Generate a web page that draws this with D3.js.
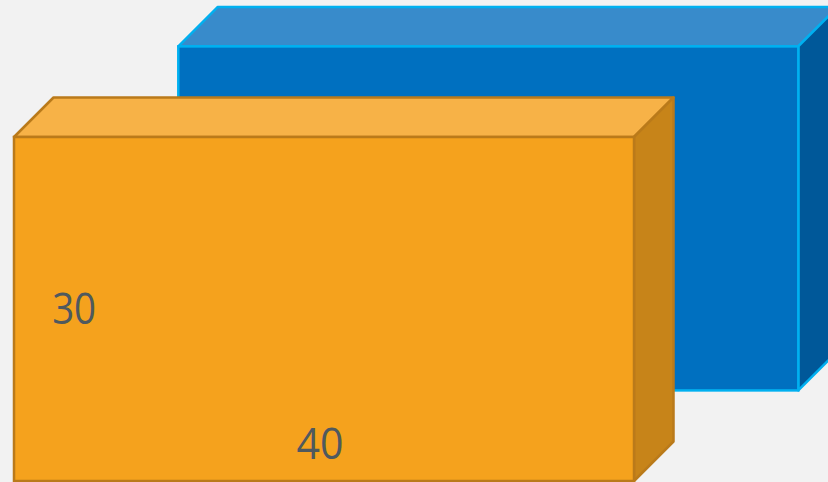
<!DOCTYPE html>
<html>
<head>
<meta charset="utf-8">
<script src="https://cdn.jsdelivr.net/npm/d3@7"></script>
<style>
  html, body { margin: 0; padding: 0; background: #f2f2f2; overflow: hidden; }
  svg { display: block; }
</style>
</head>
<body>
<div id="chart"></div>
<script>
// ---- data ----
const boxNames   = ["Back box", "Front box"];
const boxLeft    = [10.6, 0];     // x start (units)
const boxBase    = [7.9, 0];      // base elevation (units)
const boxWidth   = [40, 40];      // width (units)
const boxHeight  = [30, 30];      // height (units)
const boxDepth   = [10, 10];      // depth (units)
const heightLabel = ["", "30"];
const widthLabel  = ["", "40"];

const faceFront = ["#0070c0", "#f5a21d"];
const faceTop   = ["#388bcb", "#f7b247"];
const faceSide  = ["#005899", "#c78419"];
const edgeColor = ["#00b0f0", "#ba7a1a"];

// ---- layout ----
const W = 828, H = 482;
const svg = d3.select("#chart").append("svg").attr("width", W).attr("height", H);
svg.append("rect").attr("width", W).attr("height", H).attr("fill", "#f2f2f2");

const x = d3.scaleLinear().domain([0, 40]).range([14, 634]);
const y = d3.scaleLinear().domain([0, 30]).range([481, 137]);
const dz = d3.scaleLinear().domain([0, 10]).range([0, 39.5]);

const boxes = boxNames.map((n, i) => ({
  name: n, left: boxLeft[i], base: boxBase[i], w: boxWidth[i], h: boxHeight[i], d: boxDepth[i],
  front: faceFront[i], top: faceTop[i], side: faceSide[i], edge: edgeColor[i],
  hl: heightLabel[i], wl: widthLabel[i]
}));

const line = d3.line();
const g = svg.selectAll("g.box").data(boxes).join("g").attr("class", "box");
const labelFont = "'Open Sans', Lato, sans-serif";

g.each(function(b) {
  const sel = d3.select(this);
  const x0 = x(b.left), x1 = x(b.left + b.w);
  const yb = y(b.base), yt = y(b.base + b.h);
  const ox = dz(b.d), oy = -dz(b.d);
  // top face
  sel.append("path")
    .attr("d", line([[x0, yt], [x0 + ox, yt + oy], [x1 + ox, yt + oy], [x1, yt]]) + "Z")
    .attr("fill", b.top).attr("stroke", b.edge).attr("stroke-width", 2.5).attr("stroke-linejoin", "round");
  // side face
  sel.append("path")
    .attr("d", line([[x1, yt], [x1 + ox, yt + oy], [x1 + ox, yb + oy], [x1, yb]]) + "Z")
    .attr("fill", b.side).attr("stroke", b.edge).attr("stroke-width", 2.5).attr("stroke-linejoin", "round");
  // front face
  sel.append("rect")
    .attr("x", x0).attr("y", yt).attr("width", x1 - x0).attr("height", yb - yt)
    .attr("fill", b.front).attr("stroke", b.edge).attr("stroke-width", 2.5);
  if (b.hl) {
    sel.append("text")
      .attr("x", x0 + (x(4) - x(0)) * 0.97).attr("y", y(b.base + b.h / 2) + 15)
      .attr("text-anchor", "middle")
      .attr("font-family", labelFont).attr("font-weight", 500)
      .attr("font-size", 44).attr("fill", "#4f595e")
      .attr("textLength", 44).attr("lengthAdjust", "spacingAndGlyphs")
      .text(b.hl);
  }
  if (b.wl) {
    sel.append("text")
      .attr("x", (x0 + x1) / 2 - 4).attr("y", yb - 22)
      .attr("text-anchor", "middle")
      .attr("font-family", labelFont).attr("font-weight", 500)
      .attr("font-size", 44).attr("fill", "#4f595e")
      .attr("textLength", 47).attr("lengthAdjust", "spacingAndGlyphs")
      .text(b.wl);
  }
});
</script>
</body>
</html>
